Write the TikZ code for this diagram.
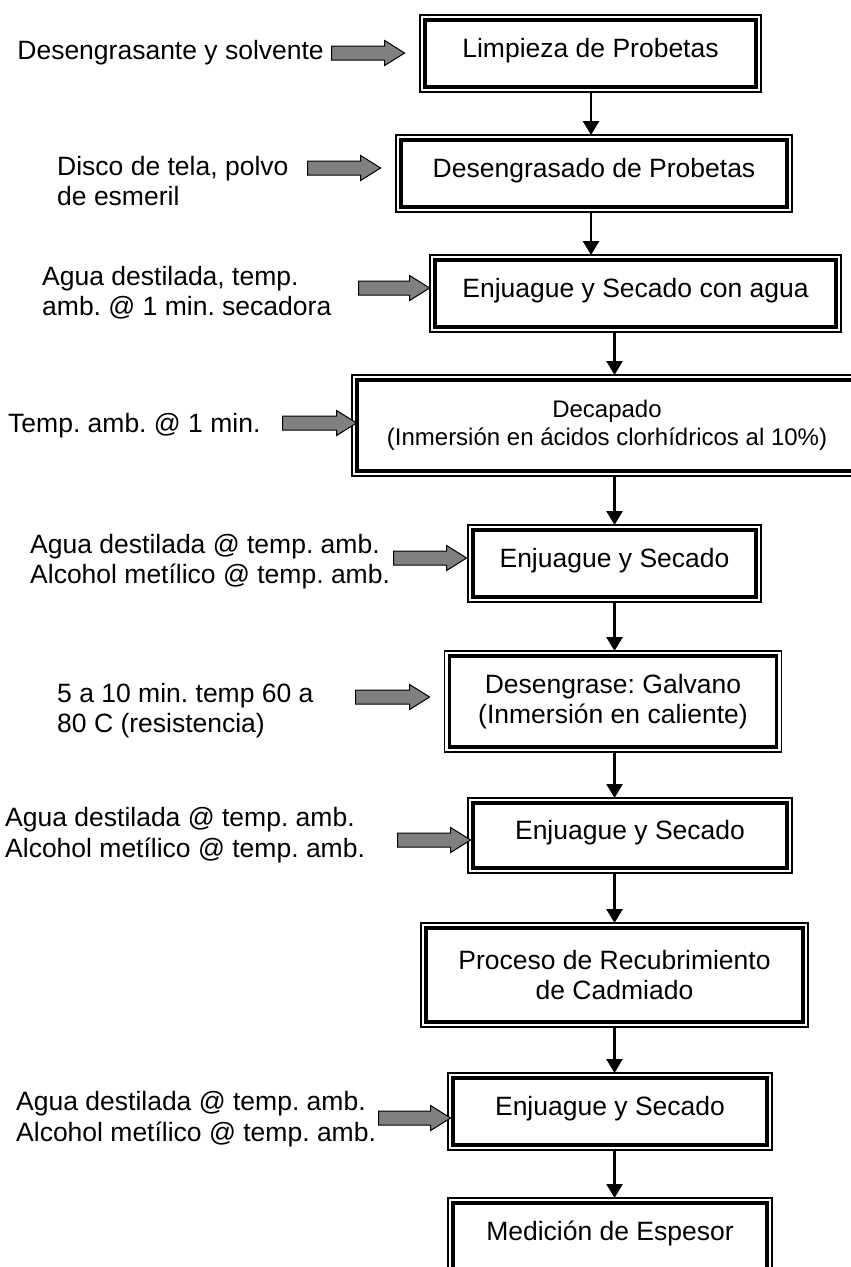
\documentclass[tikz,border=0pt]{standalone}
\usepackage{fontspec}
\setmainfont{Liberation Sans}
\usetikzlibrary{arrows.meta,shapes.arrows}
\frenchspacing
\begin{document}
\begin{tikzpicture}[x=1pt,y=-1pt,
  every node/.style={font=\fontsize{26.5}{30.5}\selectfont},
  % process box: thin outer frame with a heavier inner frame
  stepbox/.style={draw, line width=1.8pt, inner sep=0pt, outer sep=0pt, align=center,
    path picture={\draw[line width=3.2pt]
      ([shift={(5pt,5pt)}]path picture bounding box.south west) rectangle
      ([shift={(-5pt,-5pt)}]path picture bounding box.north east);}},
  oneline/.style={text height=20pt, text depth=13pt},
  note/.style={anchor=west, align=left, inner sep=0pt},
  feed/.style={single arrow, draw=black, line width=1pt, fill=gray,
    inner sep=6.5pt, single arrow head extend=5.5pt, single arrow tip angle=64,
    single arrow head indent=0pt, minimum height=#1},
  flow/.style={draw, line width=2.5pt, -{Triangle[width=16pt,length=14pt]}}
]
\useasboundingbox (0,0) rectangle (851,1267);

% process steps
\node[stepbox, oneline, minimum width=341pt, minimum height=77pt] (b1) at (590.5,53.5) {Limpieza de Probetas};
\node[stepbox, oneline, minimum width=396pt, minimum height=77pt] (b2) at (594,173.5) {Desengrasado de Probetas};
\node[stepbox, oneline, minimum width=411pt, minimum height=77pt] (b3) at (635.5,293.5) {Enjuague y Secado con agua};
\node[stepbox, minimum width=510pt, minimum height=101pt, font=\fontsize{24}{28}\selectfont] (b4) at (607,425.5) {Decapado\\(Inmersión en ácidos clorhídricos al 10\%)};
\node[stepbox, oneline, minimum width=293pt, minimum height=77pt] (b5) at (614.5,563.5) {Enjuague y Secado};
\node[stepbox, minimum width=337pt, minimum height=101pt] (b6) at (613,701.5) {Desengrase: Galvano\\(Inmersión en caliente)};
\node[stepbox, oneline, minimum width=324pt, minimum height=75pt] (b7) at (630,835.5) {Enjuague y Secado};
\node[stepbox, minimum width=387pt, minimum height=104pt] (b8) at (614.5,975) {Proceso de Recubrimiento\\de Cadmiado};
\node[stepbox, oneline, minimum width=324pt, minimum height=77pt] (b9) at (610,1111.5) {Enjuague y Secado};
\node[stepbox, oneline, minimum width=324pt, minimum height=77pt] (b10) at (610,1236.5) {Medición de Espesor};

% flow between steps
\coordinate (sp1) at (591,0);
\coordinate (sp2) at (614.5,0);
\draw[flow] (b1.south -| sp1) -- (b2.north -| sp1);
\draw[flow] (b2.south -| sp1) -- (b3.north -| sp1);
\draw[flow] (b3.south -| sp2) -- (b4.north -| sp2);
\draw[flow] (b4.south -| sp2) -- (b5.north -| sp2);
\draw[flow] (b5.south -| sp2) -- (b6.north -| sp2);
\draw[flow] (b6.south -| sp2) -- (b7.north -| sp2);
\draw[flow] (b7.south -| sp2) -- (b8.north -| sp2);
\draw[flow] (b8.south -| sp2) -- (b9.north -| sp2);
\draw[flow] (b9.south -| sp2) -- (b10.north -| sp2);

% inputs
\node[note, anchor=east] (t1) at (324,52.6) {Desengrasante y solvente};
\node[note] (t2) at (57,181) {Disco de tela, polvo\\de esmeril};
\node[note] (t3) at (42,292.5) {Agua destilada, temp.\\amb. @ 1 min. secadora};
\node[note] (t4) at (8,425.5) {Temp. amb. @ 1 min.};
\node[note] (t5) at (30,561.5) {Agua destilada @ temp. amb.\\Alcohol metílico @ temp. amb.};
\node[note] (t6) at (57,710.5) {5 a 10 min. temp 60 a\\80 C (resistencia)};
\node[note] (t7) at (5,835) {Agua destilada @ temp. amb.\\Alcohol metílico @ temp. amb.};
\node[note] (t8) at (16,1119) {Agua destilada @ temp. amb.\\Alcohol metílico @ temp. amb.};

% input arrows
\node[feed=73pt] (a1) at (362.5,53) {};
\node[feed=73pt] (a2) at (338.5,168) {};
\node[feed=71pt] (a3) at (388.5,288) {};
\node[feed=74pt] (a4) at (314,423) {};
\node[feed=73pt] (a5) at (424.5,558) {};
\node[feed=74pt] (a6) at (387,697) {};
\node[feed=73pt] (a7) at (428.5,840) {};
\node[feed=72pt] (a8) at (409,1118) {};
\end{tikzpicture}
\end{document}
